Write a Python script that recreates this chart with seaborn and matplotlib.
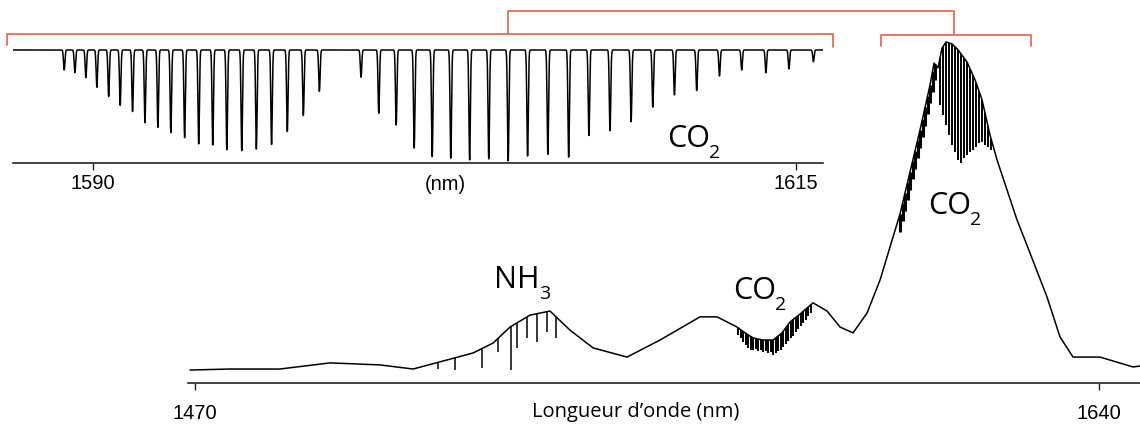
import numpy as np
import matplotlib
matplotlib.use("Agg")
import matplotlib.pyplot as plt
import seaborn as sns
from matplotlib.lines import Line2D

# ---- main spectrum: envelope (nm, relative signal)
main_wl = [1469.06, 1476.58, 1485.98, 1495.39, 1504.79, 1511.00, 1516.07, 1522.27,
           1526.04, 1529.23, 1532.99, 1536.75, 1540.51, 1544.84, 1551.23, 1557.44,
           1564.96, 1568.16, 1571.92, 1573.42, 1574.93, 1576.81, 1578.69, 1580.38,
           1581.88, 1583.76, 1586.21, 1588.84, 1591.29, 1593.73, 1596.36, 1598.81,
           1601.25, 1602.57, 1604.45, 1606.33, 1608.21, 1608.96, 1609.71, 1610.46,
           1611.22, 1612.35, 1613.47, 1615.17, 1616.67, 1617.99, 1619.49, 1620.81,
           1622.69, 1624.57, 1627.01, 1630.21, 1632.65, 1635.10, 1640.18, 1646.38,
           1647.69]
main_level = [0.038, 0.041, 0.041, 0.059, 0.053, 0.041, 0.062, 0.088,
              0.117, 0.164, 0.199, 0.211, 0.155, 0.103, 0.076, 0.126,
              0.194, 0.194, 0.164, 0.147, 0.132, 0.126, 0.126, 0.147,
              0.179, 0.202, 0.235, 0.211, 0.164, 0.147, 0.205, 0.302,
              0.428, 0.496, 0.619, 0.742, 0.874, 0.938, 0.924, 0.982,
              1.000, 0.994, 0.977, 0.941, 0.889, 0.830, 0.727, 0.654,
              0.566, 0.478, 0.381, 0.252, 0.135, 0.076, 0.076, 0.047,
              0.050]

# absorption dips in the main trace (position, bottom of dip)
nh3_wl = [1515.75, 1518.89, 1523.91, 1527.03, 1529.33, 1530.49, 1532.43, 1534.25,
          1536.13, 1537.88]
nh3_bottom = [0.040, 0.038, 0.043, 0.092, 0.037, 0.102, 0.132, 0.121, 0.150, 0.133]

co2_weak_wl = [1572.11, 1572.58, 1573.05, 1573.52, 1573.99, 1574.46, 1574.93, 1575.40,
               1575.87, 1576.34, 1576.81, 1577.28, 1577.75, 1578.22, 1578.69, 1579.16,
               1579.63, 1580.10, 1580.57, 1581.04, 1581.51, 1581.98, 1582.45, 1582.92,
               1583.39, 1583.86, 1584.33, 1584.80, 1585.27, 1585.74]
co2_weak_bottom = [0.141, 0.132, 0.120, 0.111, 0.103, 0.097, 0.097, 0.100,
                   0.094, 0.097, 0.091, 0.094, 0.088, 0.091, 0.082, 0.088,
                   0.094, 0.097, 0.106, 0.114, 0.123, 0.132, 0.138, 0.150,
                   0.158, 0.167, 0.176, 0.185, 0.196, 0.205]

# strong band, rising side (dense) and falling side (resolved lines)
co2_rise_wl = [1602.57, 1603.04, 1603.51, 1603.98, 1604.45, 1604.92, 1605.39, 1605.86,
               1606.33, 1606.80, 1607.27, 1607.74, 1608.21, 1608.68, 1609.15]
co2_rise_bottom = [0.443, 0.475, 0.504, 0.537, 0.566, 0.598, 0.628, 0.660,
                   0.689, 0.721, 0.754, 0.789, 0.821, 0.853, 0.889]
co2_fall_wl = [1610.09, 1610.66, 1611.22, 1611.79, 1612.35, 1612.91, 1613.48, 1614.04,
               1614.60, 1615.17, 1615.73, 1616.30, 1616.86, 1617.42, 1617.99, 1618.55,
               1619.11, 1619.68]
co2_fall_bottom = [0.815, 0.786, 0.757, 0.727, 0.698, 0.677, 0.654, 0.645,
                   0.660, 0.669, 0.677, 0.683, 0.692, 0.704, 0.707, 0.698,
                   0.692, 0.683]

# ---- inset: CO2 line list (nm, fractional depth)
inset_wl = [1588.99, 1589.37, 1589.76, 1590.15, 1590.57, 1590.98, 1591.42, 1591.86,
            1592.32, 1592.78, 1593.27, 1593.77, 1594.27, 1594.77, 1595.30, 1595.82,
            1596.36, 1596.92, 1597.49, 1598.06, 1599.54, 1600.17, 1600.79, 1601.43,
            1602.07, 1602.73, 1603.40, 1604.08, 1604.77, 1605.46, 1606.18, 1606.92,
            1607.64, 1608.39, 1609.14, 1609.91, 1610.68, 1611.47, 1612.28, 1613.07,
            1613.93, 1614.75, 1615.62]
inset_depth = [0.177, 0.201, 0.245, 0.330, 0.413, 0.489, 0.546, 0.643,
               0.684, 0.732, 0.776, 0.832, 0.843, 0.885, 0.891, 0.879,
               0.835, 0.723, 0.581, 0.365, 0.242, 0.560, 0.664, 0.870,
               0.944, 0.958, 0.973, 0.967, 0.982, 0.938, 0.923, 0.950,
               0.758, 0.717, 0.635, 0.507, 0.398, 0.360, 0.230, 0.177,
               0.201, 0.168, 0.104]

W, H = 1140, 426
RED = "#ec6a55"
HUMANIST = ["Open Sans", "DejaVu Sans"]

sns.set_style("white")
plt.rcParams["font.family"] = ["Liberation Sans", "DejaVu Sans"]
plt.rcParams["text.color"] = "black"
plt.rcParams["xtick.color"] = "black"


def fx(x, y):
    return x / W, 1 - y / H


def style_axis(a, ticks, pad):
    a.set_yticks([])
    a.set_xticks(ticks)
    a.set_xlabel("")
    a.set_ylabel("")
    sns.despine(ax=a, left=True)
    a.spines["bottom"].set_linewidth(1.2)
    a.spines["bottom"].set_color("#222222")
    a.tick_params(axis="x", bottom=True, direction="out", length=5, width=1,
                  labelsize=14.5, pad=pad, color="#222222", labelcolor="black")


fig = plt.figure(figsize=(W / 100, H / 100), dpi=100)

# main axes
ax = fig.add_axes([188 / W, 43 / H, 952 / W, 383 / H])
ax.patch.set_alpha(0)
sns.lineplot(x=main_wl, y=main_level, ax=ax, color="black", lw=1.1)
for wl, bot, lw in [(nh3_wl, nh3_bottom, 1.1), (co2_weak_wl, co2_weak_bottom, 1.4),
                    (co2_rise_wl, co2_rise_bottom, 2.2), (co2_fall_wl, co2_fall_bottom, 1.4)]:
    top = np.interp(wl, main_wl, main_level)
    ax.vlines(wl, bot, top, color="black", lw=lw)
ax.set_xlim(1468.68, 1647.69)
ax.set_ylim(0, 1.123)
style_axis(ax, [1470, 1640], 10)

# inset axes
axi = fig.add_axes([13 / W, (H - 163) / H, 810 / W, 125 / H])
axi.patch.set_alpha(0)
grid = np.linspace(1587.17, 1615.96, 6000)
trans = np.ones_like(grid)
for wl, d in zip(inset_wl, inset_depth):
    trans -= d * np.exp(-0.5 * ((grid - wl) / 0.025) ** 2)
sns.lineplot(x=grid, y=trans, ax=axi, color="black", lw=1.1)
axi.set_xlim(1587.17, 1615.96)
axi.set_ylim(0, 1.106)
style_axis(axi, [1590, 1615], 3)

# axis titles
fig.text(*fx(445, 184), "(nm)", ha="center", va="center", fontsize=14.5)
fig.text(*fx(636, 417), "Longueur d\u2019onde (nm)", ha="center", va="baseline",
         fontsize=14.5, family=HUMANIST)

# species labels: main text plus a lowered subscript digit
for x, y, name, sub, dx in [(667, 147, "CO", "2", 42), (494, 288, "NH", "3", 45),
                            (733, 299, "CO", "2", 42), (928, 214, "CO", "2", 42)]:
    fig.text(*fx(x, y), name, ha="left", va="baseline", fontsize=22, family=HUMANIST)
    fig.text(*fx(x + dx, y + 11), sub, ha="left", va="baseline", fontsize=14,
             family=HUMANIST)

# red brackets
for pts in [[(7, 45), (7, 34), (833, 34), (833, 47)],
            [(881, 46), (881, 35), (1031, 35), (1031, 46)],
            [(508, 34), (508, 11), (954, 11), (954, 35)]]:
    xs, ys = zip(*[fx(x, y) for x, y in pts])
    fig.add_artist(Line2D(xs, ys, transform=fig.transFigure, color=RED, lw=1.3))

fig.savefig("out.png", dpi=100)
